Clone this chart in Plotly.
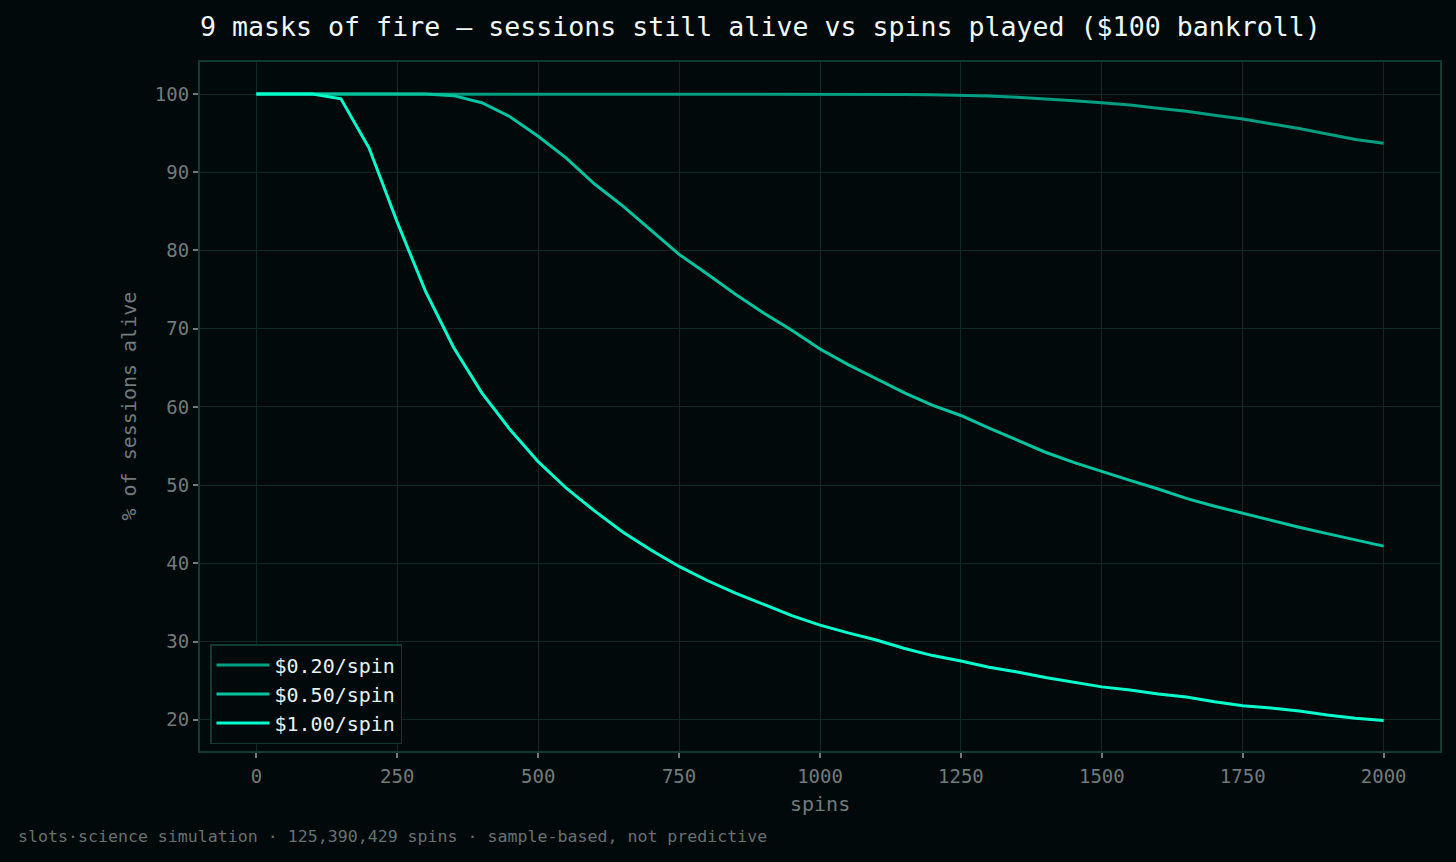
import plotly.graph_objects as go

spins = [0, 50, 100, 150, 200, 250, 300, 350, 400, 450, 500, 550, 600, 650, 700, 750,
         800, 850, 900, 950, 1000, 1050, 1100, 1150, 1200, 1250, 1300, 1350, 1400, 1450,
         1500, 1550, 1600, 1650, 1700, 1750, 1800, 1850, 1900, 1950, 2000]

alive_020 = [100, 100, 100, 100, 100, 100, 100, 100, 100, 100, 100, 100, 100, 100, 100, 100,
             100, 100, 100, 100, 100, 100, 100, 99.95, 99.9, 99.85, 99.75, 99.6, 99.4, 99.15,
             98.9, 98.6, 98.2, 97.8, 97.3, 96.8, 96.2, 95.6, 94.9, 94.2, 93.7]

alive_050 = [100, 100, 100, 100, 100, 100, 100, 99.8, 98.9, 97.1, 94.6, 91.8, 88.5, 85.7, 82.6, 79.5,
             77.0, 74.4, 72.0, 69.8, 67.4, 65.4, 63.6, 61.8, 60.2, 58.9, 57.3, 55.8, 54.2, 52.9,
             51.7, 50.6, 49.5, 48.3, 47.3, 46.4, 45.5, 44.6, 43.8, 43.0, 42.2]

alive_100 = [100, 100, 100, 99.4, 93.1, 83.6, 74.8, 67.6, 61.8, 57.1, 53.0, 49.6, 46.7, 44.0, 41.7, 39.6,
             37.8, 36.2, 34.8, 33.3, 32.1, 31.1, 30.2, 29.1, 28.2, 27.5, 26.7, 26.1, 25.4, 24.8,
             24.2, 23.8, 23.3, 22.9, 22.3, 21.8, 21.5, 21.1, 20.6, 20.2, 19.9]

series_names = ["$0.20/spin", "$0.50/spin", "$1.00/spin"]
series_colors = ["#009e81", "#00c4a0", "#00ffcc"]

x_ticks = [0, 250, 500, 750, 1000, 1250, 1500, 1750, 2000]
y_ticks = [20, 30, 40, 50, 60, 70, 80, 90, 100]

title_text = "9 masks of fire — sessions still alive vs spins played ($100 bankroll)"
footer_text = "slots·science simulation · 125,390,429 spins · sample-based, not predictive"

FONT = "DejaVu Sans Mono"
BG = "#02090b"
GRID = "#0c2925"
FRAME = "#113a33"
TICK = "#6f7c7a"

fig = go.Figure()
for name, color, vals in zip(series_names, series_colors, [alive_020, alive_050, alive_100]):
    fig.add_trace(go.Scatter(x=spins, y=vals, mode="lines", name=name,
                             line=dict(color=color, width=3)))

W, H = 1456, 862
L, R, T, B = 200, 16, 62, 111
pw, ph = W - L - R, H - T - B

fig.update_layout(
    width=W, height=H,
    margin=dict(l=L, r=R, t=T, b=B),
    paper_bgcolor=BG, plot_bgcolor=BG,
    font=dict(family=FONT, color=TICK, size=19),
    title=dict(text=title_text, x=L / W, xanchor="left", xref="container",
               y=1 - 27 / H, yanchor="middle", yref="container",
               font=dict(family=FONT, size=26.6, color="#eef8f6")),
    showlegend=True,
    legend=dict(x=10 / pw, y=7 / ph, xanchor="left", yanchor="bottom",
                bgcolor=BG, bordercolor=FRAME, borderwidth=1.5,
                font=dict(family=FONT, size=20, color="#e6f2f0"),
                itemwidth=53, tracegroupgap=0),
    xaxis=dict(range=[-100, 2100], tickvals=x_ticks, ticktext=[str(v) for v in x_ticks],
               showgrid=True, gridcolor=GRID, gridwidth=1, zeroline=False,
               showline=True, linecolor=FRAME, linewidth=2, mirror=True,
               ticks="outside", ticklen=5, tickcolor=TICK, tickwidth=1.5,
               ticklabelstandoff=2,
               tickfont=dict(family=FONT, size=19, color=TICK)),
    yaxis=dict(range=[16.0, 104.1], tickvals=y_ticks, ticktext=[str(v) for v in y_ticks],
               showgrid=True, gridcolor=GRID, gridwidth=1, zeroline=False,
               showline=True, linecolor=FRAME, linewidth=2, mirror=True,
               ticks="outside", ticklen=5, tickcolor=TICK, tickwidth=1.5,
               tickfont=dict(family=FONT, size=19, color=TICK)),
    annotations=[
        dict(text="spins", xref="paper", yref="paper", x=0.5, y=-(804 - (T + ph)) / ph,
             xanchor="center", yanchor="middle", showarrow=False,
             font=dict(family=FONT, size=20, color=TICK)),
        dict(text="% of sessions alive", xref="paper", yref="paper",
             x=(128 - L) / pw, y=0.5, textangle=-90,
             xanchor="center", yanchor="middle", showarrow=False,
             font=dict(family=FONT, size=20, color=TICK)),
        dict(text=footer_text, xref="paper", yref="paper",
             x=(16 - L) / pw, y=-(836 - (T + ph)) / ph,
             xanchor="left", yanchor="middle", showarrow=False,
             font=dict(family=FONT, size=16.6, color="#66716f")),
    ],
)

fig.write_html("out.html")
